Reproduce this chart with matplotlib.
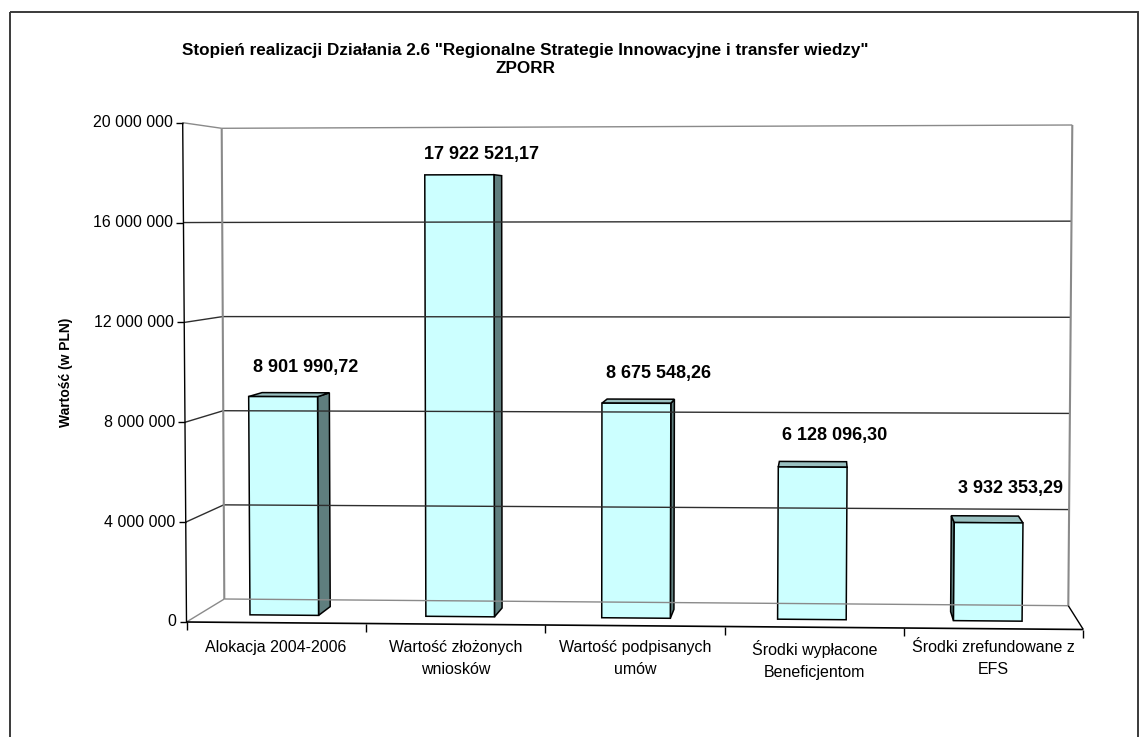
import matplotlib.pyplot as plt
from matplotlib.patches import Polygon, Rectangle

plt.rcParams['font.family'] = ['Liberation Sans', 'DejaVu Sans']

# --- data ---
categories = ["Alokacja 2004-2006",
              "Wartość złożonych\nwniosków",
              "Wartość podpisanych\numów",
              "Środki wypłacone\nBeneficjentom",
              "Środki zrefundowane z\nEFS"]
values = [8901990.72, 17922521.17, 8675548.26, 6128096.30, 3932353.29]
y_ticks = [0, 4000000, 8000000, 12000000, 16000000, 20000000]
y_max = 20000000

title = ('Stopień realizacji Działania 2.6 "Regionalne Strategie Innowacyjne i transfer wiedzy"\n'
         'ZPORR')
y_label = 'Wartość (w PLN)'

# --- 3d box (pixel corners: (right, top, back) -> (x, y)) ---
box = {
    (0, 0, 0): (186.5, 622.0),
    (1, 0, 0): (1083.3, 629.5),
    (0, 1, 0): (182.7, 122.7),
    (1, 1, 0): (1089.0, 119.5),
    (0, 0, 1): (224.3, 599.0),
    (1, 0, 1): (1068.3, 605.7),
    (0, 1, 1): (221.7, 128.3),
    (1, 1, 1): (1072.3, 125.0),
}
n = len(categories)
bar_center = 0.485
bar_width = 0.39
depth_front, depth_back = 0.33, 0.71


def proj(x, v, z):
    """category position, value, depth -> pixel position"""
    u = x / n
    h = v / y_max
    px = py = 0.0
    for (a, b, c), (cx, cy) in box.items():
        wgt = (u if a else 1 - u) * (h if b else 1 - h) * (z if c else 1 - z)
        px += wgt * cx
        py += wgt * cy
    return px, py


def seg(ax, p, q, **kw):
    ax.plot([p[0], q[0]], [p[1], q[1]], solid_capstyle='butt', **kw)


def fmt_thousands(v, decimals=0):
    s = f"{v:,.{decimals}f}"
    return s.replace(",", " ").replace(".", ",")


fig = plt.figure(figsize=(11.48, 7.37), dpi=100)
ax = fig.add_axes([0, 0, 1, 1])
ax.set_xlim(0, 1148)
ax.set_ylim(737, 0)
ax.axis('off')

# chart border
ax.add_patch(Rectangle((9.5, 12), 1128.5, 760, fill=False, ec='#3a3a3a', lw=1.4))

grid_dark = '#2e2e2e'
grid_light = '#8a8a8a'

# walls: side wall and back wall grid
for t in y_ticks:
    col = grid_light if t in (0, y_max) else grid_dark
    seg(ax, proj(0, t, 0), proj(0, t, 1), color=col, lw=1.0)
    seg(ax, proj(0, t, 1), proj(n, t, 1), color=col, lw=1.0)
seg(ax, proj(0, 0, 1), proj(0, y_max, 1), color=grid_light, lw=1.5)
seg(ax, proj(n, 0, 1), proj(n, y_max, 1), color=grid_light, lw=1.5)
seg(ax, proj(n, 0, 1), proj(n, 0, 0), color='black', lw=1.0)

# bars
face_col = '#ccffff'
side_col = '#5f7e7e'
top_col = '#99c0c0'
for i, v in enumerate(values):
    x0 = i + bar_center - bar_width / 2
    x1 = i + bar_center + bar_width / 2
    z0, z1 = depth_front, depth_back
    faces = []
    if proj(x1, v, z1)[0] > proj(x1, v, z0)[0]:
        faces.append(([proj(x1, 0, z0), proj(x1, 0, z1), proj(x1, v, z1), proj(x1, v, z0)], side_col))
    if proj(x0, v, z1)[0] < proj(x0, v, z0)[0]:
        faces.append(([proj(x0, 0, z0), proj(x0, 0, z1), proj(x0, v, z1), proj(x0, v, z0)], side_col))
    if proj(x0, v, z1)[1] < proj(x0, v, z0)[1]:
        faces.append(([proj(x0, v, z0), proj(x1, v, z0), proj(x1, v, z1), proj(x0, v, z1)], top_col))
    faces.append(([proj(x0, 0, z0), proj(x1, 0, z0), proj(x1, v, z0), proj(x0, v, z0)], face_col))
    for pts, col in faces:
        ax.add_patch(Polygon(pts, closed=True, fc=col, ec='black', lw=1.1, joinstyle='miter'))

    # value label sits above the bar's top at the back wall depth
    lx = proj(i + bar_center, v, z0)[0]
    ly = proj(i + bar_center, v, 1)[1]
    ax.text(lx + 22, ly - 22, fmt_thousands(v, 2), ha='center', va='center',
            fontsize=13, fontweight='bold')

# front axes
seg(ax, proj(0, 0, 0), proj(n, 0, 0), color='black', lw=1.2)
seg(ax, proj(0, 0, 0), proj(0, y_max, 0), color='black', lw=1.0)
for t in y_ticks:
    px, py = proj(0, t, 0)
    seg(ax, (px - 7, py), (px, py), color='black', lw=1.0)
    ax.text(px - 10, py, fmt_thousands(t), ha='right', va='center', fontsize=11.5)

for k in range(n + 1):
    px, py = proj(k, 0, 0)
    seg(ax, (px, py), (px, py + 8), color='black', lw=1.0)
for k, name in enumerate(categories):
    pa = proj(k, 0, 0)
    pb = proj(k + 1, 0, 0)
    ax.text((pa[0] + pb[0]) / 2, 640, name, ha='center', va='top',
            fontsize=11.5, linespacing=1.55)

ax.text(525, 59, title, ha='center', va='center', fontsize=12.3,
        fontweight='bold', linespacing=1.25)
ax.text(66, 372, y_label, ha='center', va='center', rotation=90,
        fontsize=10, fontweight='bold')

fig.savefig('out.png', dpi=100)
